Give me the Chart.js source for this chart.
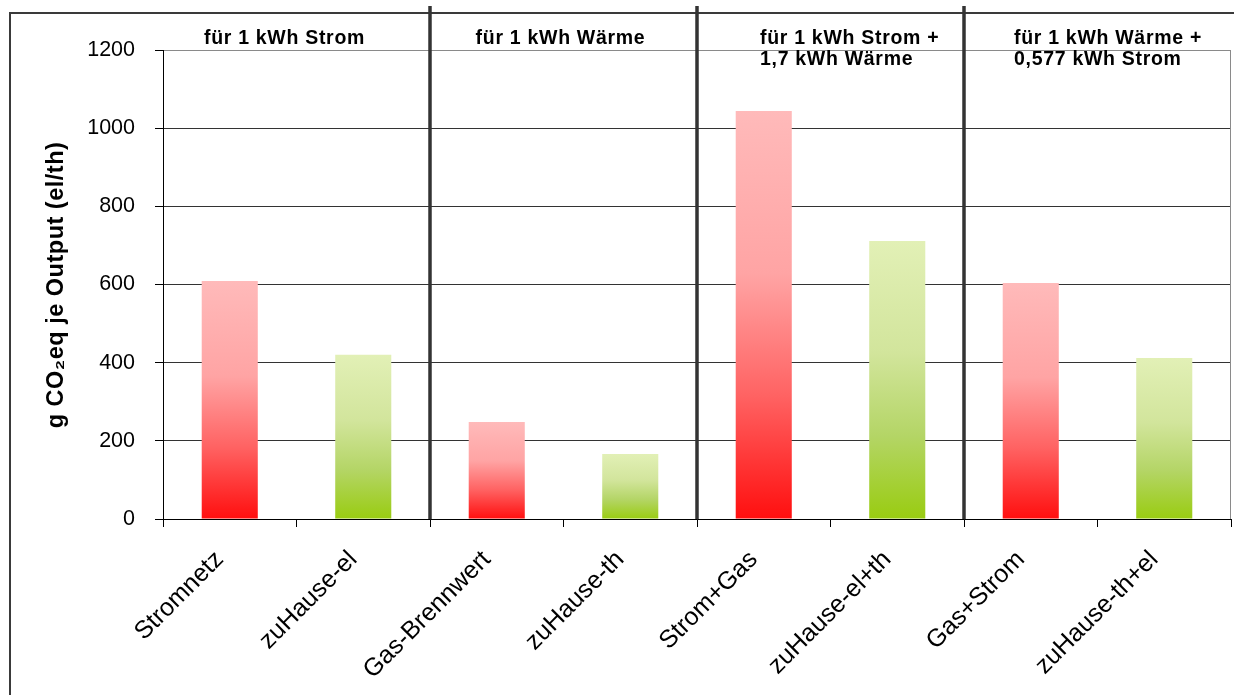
<!DOCTYPE html>
<html>
<head>
<meta charset="utf-8">
<script src="https://cdn.jsdelivr.net/npm/chart.js@4/dist/chart.umd.min.js"></script>
<style>
  html, body { margin: 0; padding: 0; background: #fff; }
  #wrap { width: 1234px; height: 695px; position: relative; }
</style>
</head>
<body>
<div id="wrap"><canvas id="co2Chart"></canvas></div>
<script>
// Emissions per kWh output, grid supply vs. home plant
const categories = ['Stromnetz', 'zuHause-el', 'Gas-Brennwert', 'zuHause-th',
                    'Strom+Gas', 'zuHause-el+th', 'Gas+Strom', 'zuHause-th+el'];
const emissions = [609, 420, 248, 166, 1044, 711, 604, 412];
const yTicks = [0, 200, 400, 600, 800, 1000, 1200];
const groupTitles = [
    ['für 1 kWh Strom'],
    ['für 1 kWh Wärme'],
    ['für 1 kWh Strom +', '1,7 kWh Wärme'],
    ['für 1 kWh Wärme +', '0,577 kWh Strom']
];
const yTitle = 'g CO\u2082eq je Output (el/th)';

const FONT = '"Liberation Sans", Arial, sans-serif';

// vertical gradient per bar, light at the top, saturated at the base
function barGradient(context) {
    const red = context.dataIndex % 2 === 0;
    const chart = context.chart;
    const yScale = chart.scales.y;
    const area = chart.chartArea;
    if (!area || !yScale || !context.parsed) return red ? '#ff6262' : '#b4d566';
    const top = yScale.getPixelForValue(context.parsed.y);
    const bottom = yScale.getPixelForValue(0);
    if (!isFinite(top) || !isFinite(bottom)) return red ? '#ff6262' : '#b4d566';
    const g = chart.ctx.createLinearGradient(0, top, 0, bottom);
    if (red) {
        g.addColorStop(0, '#ffbaba');
        g.addColorStop(0.4, '#ffa4a4');
        g.addColorStop(0.7, '#ff6262');
        g.addColorStop(1, '#ff0f0f');
    } else {
        g.addColorStop(0, '#e2f0b6');
        g.addColorStop(0.4, '#d2e59c');
        g.addColorStop(0.7, '#b4d566');
        g.addColorStop(1, '#99cc11');
    }
    return g;
}

const decorations = {
    id: 'decorations',
    afterDraw(chart) {
        const ctx = chart.ctx;
        const area = chart.chartArea;
        const x = chart.scales.x;
        ctx.save();

        // outer frame (left and top edges)
        ctx.strokeStyle = '#3a3a3a';
        ctx.lineWidth = 2;
        ctx.beginPath();
        ctx.moveTo(10, 695);
        ctx.lineTo(10, 13);
        ctx.lineTo(1234, 13);
        ctx.stroke();

        // plot area right border
        ctx.strokeStyle = '#8a8a8a';
        ctx.lineWidth = 1;
        ctx.beginPath();
        ctx.moveTo(area.right - 0.5, area.top);
        ctx.lineTo(area.right - 0.5, area.bottom);
        ctx.stroke();

        // group separators between category pairs
        const seps = [];
        for (let i = 1; i < categories.length - 1; i += 2) {
            seps.push((x.getPixelForValue(i) + x.getPixelForValue(i + 1)) / 2);
        }
        ctx.strokeStyle = '#333';
        ctx.lineWidth = 3.5;
        seps.forEach(sx => {
            ctx.beginPath();
            ctx.moveTo(sx, 6);
            ctx.lineTo(sx, area.bottom);
            ctx.stroke();
        });

        // group titles
        ctx.fillStyle = '#000';
        ctx.font = 'bold 19.5px ' + FONT;
        ctx.letterSpacing = '0.7px';
        ctx.textBaseline = 'alphabetic';
        const edges = [area.left].concat(seps);
        groupTitles.forEach((lines, gi) => {
            if (lines.length === 1) {
                const right = gi + 1 < edges.length ? edges[gi + 1] : area.right;
                const cx = (edges[gi] + right) / 2 - (gi === 0 ? 12 : 3);
                ctx.textAlign = 'center';
                ctx.fillText(lines[0], cx, 44);
            } else {
                const lx = edges[gi] + (gi === 2 ? 63 : 50);
                ctx.textAlign = 'left';
                lines.forEach((t, li) => ctx.fillText(t, lx, 44 + li * 21));
            }
        });

        // y axis title
        ctx.font = 'bold 23.5px ' + FONT;
        ctx.letterSpacing = '0.5px';
        ctx.translate(63, 285);
        ctx.rotate(-Math.PI / 2);
        ctx.textAlign = 'center';
        ctx.fillText(yTitle, 0, 0);
        ctx.restore();
    }
};

new Chart(document.getElementById('co2Chart'), {
    type: 'bar',
    data: {
        labels: categories,
        datasets: [{
            data: emissions,
            backgroundColor: barGradient,
            borderWidth: 0,
            categoryPercentage: 1,
            barPercentage: 0.42
        }]
    },
    options: {
        responsive: true,
        maintainAspectRatio: false,
        animation: false,
        layout: { padding: { left: 0, top: 50, right: 3, bottom: 0 } },
        plugins: {
            legend: { display: false },
            tooltip: { enabled: false }
        },
        scales: {
            y: {
                min: 0,
                max: 1200,
                afterBuildTicks(scale) {
                    scale.ticks = yTicks.map(v => ({ value: v }));
                },
                afterFit(scale) { scale.width = 163; },
                ticks: {
                    color: '#000',
                    padding: 20,
                    font: { family: FONT, size: 21.5 },
                    callback: v => String(v)
                },
                grid: {
                    color: c => c.tick && c.tick.value === 1200 ? '#8a8a8a' : '#333',
                    tickColor: '#000',
                    tickLength: 8,
                    lineWidth: 1
                },
                border: { color: '#000', width: 1 }
            },
            x: {
                afterFit(scale) { scale.height = 176; },
                ticks: {
                    color: '#000',
                    maxRotation: 45,
                    minRotation: 45,
                    padding: 18,
                    labelOffset: -10,
                    font: { family: FONT, size: 25 }
                },
                grid: {
                    drawOnChartArea: false,
                    offset: true,
                    tickColor: '#000',
                    tickLength: 8
                },
                border: { color: '#000', width: 1 }
            }
        }
    },
    plugins: [decorations]
});
</script>
</body>
</html>
